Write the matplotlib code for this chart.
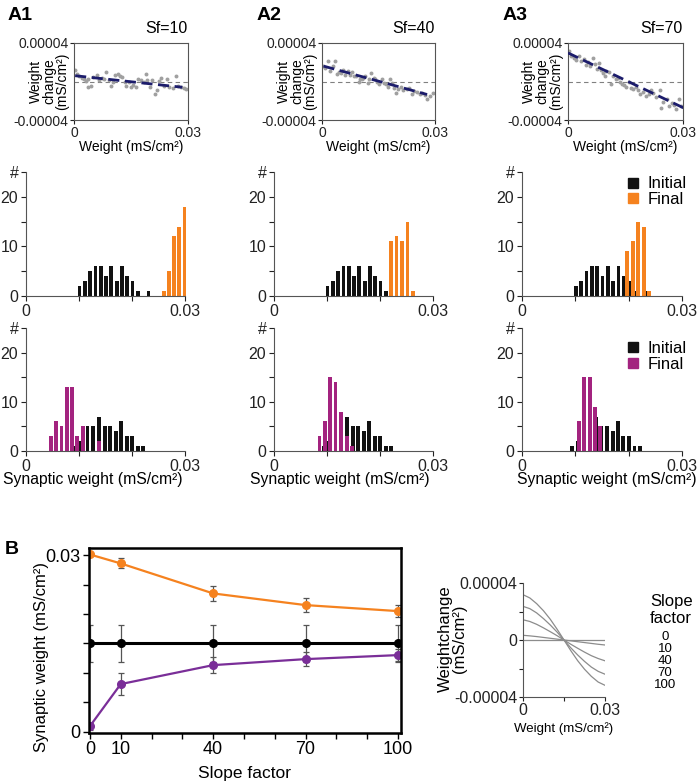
import numpy as np
import matplotlib
matplotlib.use('Agg')
import matplotlib.pyplot as plt
from matplotlib.lines import Line2D

plt.rcParams['font.family'] = ['Liberation Sans', 'DejaVu Sans']

# ---------------- data ----------------
# top row: weight change vs weight (x in mS/cm2 * 1e-3, y in mS/cm2 * 1e-5)
a1_x = [0.3, 0.7, 1.4, 2.0, 2.7, 3.2, 3.6, 3.8, 4.4, 5.1, 6.0, 6.7, 7.3, 7.9, 8.5, 9.1, 9.8, 10.3,
        10.9, 11.5, 12.1, 12.7, 13.3, 13.8, 14.5, 15.1, 15.6, 16.2, 16.9, 17.6, 18.3, 18.9, 19.3,
        20.0, 20.6, 21.3, 21.8, 22.4, 22.9, 23.8, 24.6, 25.1, 26.0, 26.9, 27.3, 28.2, 28.9, 29.5]
a1_y = [1.15, 0.8, 0.6, 0.35, 0.25, 0.1, 0.25, -0.6, -0.45, 0.5, 0.7, 0.17, 0.35, 0.25, 0.95, 0.17,
        -0.45, -0.1, 0.7, 0.8, 0.6, 0.45, -0.1, -0.45, -0.1, -0.6, -0.35, -0.6, 0.25, 0.17, 0.0,
        0.8, 0.17, -0.6, 0.17, -1.3, -0.9, 0.1, 0.35, -0.45, 0.25, -0.6, -0.7, 0.6, -0.45, -0.6,
        -0.7, -0.75]
a2_x = [0.26, 0.88, 1.5, 2.2, 2.9, 3.5, 4.0, 4.4, 5.0, 5.5, 6.2, 6.8, 7.5, 7.9, 8.5, 9.0, 9.7, 10.2,
        10.6, 11.0, 11.5, 12.1, 12.6, 13.1, 13.7, 14.1, 14.7, 15.2, 15.9, 16.5, 17.0, 17.6, 18.1,
        18.5, 19.2, 19.7, 20.3, 20.9, 21.6, 22.5, 23.2, 23.8, 24.4, 25.2, 25.9, 26.5, 27.4, 28.0,
        28.7, 29.4]
a2_y = [1.66, 1.41, 2.1, 1.07, 1.59, 2.1, 0.83, 0.97, 0.9, 1.17, 0.72, 1.07, 0.72, 0.97, 0.62, 0.62,
        -0.07, 0.28, 0.21, 0.38, 0.62, -0.14, 0.21, 0.9, 0.38, 0.21, -0.07, -0.31, 0.21, -0.14, -0.31,
        -0.55, 0.21, -0.14, -0.66, -1.24, -0.83, -0.55, -0.9, -0.76, -0.66, -1.34, -1.0, -1.1, -1.34,
        -1.17, -1.45, -1.79, -1.52, -1.17]
a3_x = [0.26, 0.87, 1.48, 2.17, 2.87, 3.48, 4.09, 4.61, 5.22, 5.83, 6.52, 6.96, 7.57, 8.09, 8.7,
        9.13, 9.57, 10.0, 10.7, 11.3, 11.7, 12.4, 13.0, 13.6, 14.1, 14.7, 15.2, 15.9, 16.5, 17.0,
        17.7, 18.3, 18.9, 19.6, 20.4, 21.1, 21.7, 22.3, 23.0, 23.9, 24.3, 24.9, 25.7, 26.4, 27.0,
        27.6, 28.3, 29.0, 29.6]
a3_y = [3.14, 2.62, 2.45, 2.21, 2.62, 2.10, 2.34, 1.76, 2.0, 1.59, 2.45, 1.86, 1.31, 1.93, 1.17,
        0.9, 0.62, 1.07, 0.97, -0.31, 0.55, 0.21, 0.38, -0.07, -0.21, -0.41, -0.55, -0.07, -0.66,
        -0.83, -0.55, -0.9, -1.34, -1.1, -1.52, -1.34, -0.9, -1.17, -1.59, -0.9, -2.72, -2.14,
        -1.86, -2.55, -2.21, -2.48, -2.9, -1.79, -2.55]
fit_x = [[0.3, 28.5], [0.4, 27.9], [0.0, 30.2]]
fit_y = [[0.6, -0.6], [1.6, -1.35], [2.97, -2.75]]
sf_labels = ['Sf=10', 'Sf=40', 'Sf=70']

# middle row histograms (orange = final)
init_mid_c = [0.0101, 0.0111, 0.0121, 0.0131, 0.0141, 0.0151, 0.0161, 0.0171, 0.0181, 0.0191,
              0.0201, 0.0211, 0.0221, 0.0231]
init_mid_n = [2, 3, 5, 6, 6, 4, 6, 3, 6, 4, 3, 1, 0, 1]
fin_mid_c = [[0.0260, 0.0270, 0.0279, 0.0289, 0.0299],
             [0.0221, 0.0231, 0.0241, 0.0252, 0.0262],
             [0.0197, 0.0208, 0.0218, 0.0228, 0.0238]]
fin_mid_n = [[1, 5, 12, 14, 18],
             [11, 12, 11, 15, 1],
             [9, 11, 15, 14, 1]]

# bottom row histograms (magenta = final)
init_bot_c = [0.0094, 0.0104, 0.0116, 0.0127, 0.0138, 0.0149, 0.0159, 0.0170, 0.0180, 0.0190,
              0.0200, 0.0211, 0.0221]
init_bot_n = [1, 2, 5, 5, 7, 5, 5, 4, 6, 3, 3, 1, 1]
fin_bot_c = [[0.0047, 0.0057, 0.0067, 0.0077, 0.0087, 0.0096, 0.0107, 0.0137],
             [0.0086, 0.0096, 0.0106, 0.0116, 0.0127, 0.0137, 0.0147],
             [0.0107, 0.0117, 0.0127, 0.0137, 0.0147]]
fin_bot_n = [[3, 6, 5, 13, 13, 3, 5, 2],
             [3, 6, 15, 14, 8, 3, 1],
             [6, 15, 15, 9, 5]]

# panel B left
slopes = [0, 10, 40, 70, 100]
orange_w = [0.0301, 0.02858, 0.02349, 0.02151, 0.02049]
orange_e = [0.0001, 0.00085, 0.00125, 0.00125, 0.001]
black_w = [0.015, 0.015, 0.015, 0.015, 0.015]
black_e = [0.0031, 0.0031, 0.0031, 0.0031, 0.0031]
purple_w = [0.00096, 0.0081, 0.01132, 0.01234, 0.01302]
purple_e = [0.0006, 0.0018, 0.0014, 0.0012, 0.001]

# panel B right (y in 1e-5)
curve_x = [0, 0.0025, 0.005, 0.0075, 0.01, 0.0125, 0.015, 0.0175, 0.02, 0.0225, 0.025, 0.0275, 0.03]
curves = {
    '0':   [0] * 13,
    '10':  [0.33, 0.29, 0.24, 0.18, 0.12, 0.06, 0, -0.06, -0.12, -0.18, -0.24, -0.3, -0.35],
    '40':  [1.42, 1.3, 1.1, 0.85, 0.58, 0.3, 0, -0.3, -0.58, -0.85, -1.1, -1.3, -1.46],
    '70':  [2.36, 2.2, 1.9, 1.5, 1.05, 0.55, 0, -0.55, -1.05, -1.5, -1.9, -2.2, -2.4],
    '100': [3.18, 2.95, 2.55, 2.05, 1.45, 0.75, 0, -0.75, -1.45, -2.05, -2.55, -2.95, -3.18],
}

ORANGE = '#F5821F'
MAGENTA = '#A3237F'
PURPLE = '#7A2E98'
NAVY = '#1C1C6B'

W, H = 700, 783


def box(l, t, r, b):
    return [l / W, 1 - b / H, (r - l) / W, (b - t) / H]


fig = plt.figure(figsize=(7, 7.83), dpi=100)

# ---------------- top row ----------------
top_boxes = [box(74, 43, 188, 120), box(322, 43, 435, 120), box(568, 43, 683, 120)]
xs_all = [a1_x, a2_x, a3_x]
ys_all = [a1_y, a2_y, a3_y]
for i in range(3):
    ax = fig.add_axes(top_boxes[i])
    ax.axhline(0, color='#808080', lw=0.8, ls=(0, (4, 3)))
    ax.scatter(np.array(xs_all[i]) * 1e-3, np.array(ys_all[i]) * 1e-5, s=8, color='#a0a0a0', lw=0, zorder=2)
    ax.plot(np.array(fit_x[i]) * 1e-3, np.array(fit_y[i]) * 1e-5, color=NAVY, lw=2, ls=(0, (4, 2)), zorder=3)
    ax.set_xlim(0, 0.03)
    ax.set_ylim(-4e-5, 4e-5)
    ax.set_xticks([0, 0.03])
    ax.set_xticklabels(['0', '0.03'])
    ax.set_yticks([-4e-5, 4e-5])
    ax.set_yticklabels(['-0.00004', '0.00004'])
    ax.tick_params(labelsize=10, length=3, width=0.8, pad=1, colors='#222222')
    for s in ax.spines.values():
        s.set_linewidth(0.8)
        s.set_color('#555555')
    ax.text(-0.22, 0.5, 'Weight\nchange\n(mS/cm²)', rotation=90, ha='center', va='center',
            transform=ax.transAxes, fontsize=10, linespacing=0.95)
    ax.text(0.5, -0.35, 'Weight (mS/cm²)', ha='center', va='center', transform=ax.transAxes, fontsize=10)
    ax.text(1.0, 1.19, sf_labels[i], ha='right', va='center', transform=ax.transAxes, fontsize=11.5)

fig.text(8 / W, 1 - 16 / H, 'A1', fontsize=14, fontweight='bold', va='center')
fig.text(257 / W, 1 - 16 / H, 'A2', fontsize=14, fontweight='bold', va='center')
fig.text(503 / W, 1 - 16 / H, 'A3', fontsize=14, fontweight='bold', va='center')
fig.text(5 / W, 1 - 549 / H, 'B', fontsize=14, fontweight='bold', va='center')


def hist_axes(rect, fc, fn, fcol, ic, inn, legend_y=None):
    ax = fig.add_axes(rect)
    ax.bar(ic, inn, width=0.00072, color='#111111', lw=0, clip_on=False)
    ax.bar(fc, fn, width=0.00072, color=fcol, lw=0, clip_on=False)
    ax.set_xlim(0, 0.03)
    ax.set_ylim(0, 25)
    ax.set_xticks([0, 0.01, 0.02, 0.03])
    ax.set_xticklabels(['0', '', '', '0.03'])
    ax.set_yticks([0, 5, 10, 15, 20, 25])
    ax.set_yticklabels(['0', '', '10', '', '20', '#'])
    ax.spines['top'].set_visible(False)
    ax.spines['right'].set_visible(False)
    for s in ['left', 'bottom']:
        ax.spines[s].set_linewidth(0.8)
        ax.spines[s].set_color('#555555')
    ax.tick_params(labelsize=11.5, length=3.5, width=0.8, pad=2, colors='#222222')
    if legend_y is not None:
        h = [Line2D([], [], marker='s', ls='', color='#111111', markersize=6.5),
             Line2D([], [], marker='s', ls='', color=fcol, markersize=6.5)]
        ax.legend(h, ['Initial', 'Final'], loc='upper left', bbox_to_anchor=(0.66, legend_y),
                  frameon=False, fontsize=12, handlelength=0.7, handletextpad=0.5,
                  labelspacing=0.05, borderpad=0, borderaxespad=0)
    return ax


mid_boxes = [box(26, 172, 185, 296), box(274, 172, 433, 296), box(522, 172, 682, 296)]
bot_boxes = [box(26, 328, 185, 451), box(274, 328, 433, 451), box(522, 328, 682, 451)]
for i in range(3):
    hist_axes(mid_boxes[i], fin_mid_c[i], fin_mid_n[i], ORANGE, init_mid_c, init_mid_n,
              0.965 if i == 2 else None)
    hist_axes(bot_boxes[i], fin_bot_c[i], fin_bot_n[i], MAGENTA, init_bot_c, init_bot_n,
              0.895 if i == 2 else None)

for cx in [93, 340, 607]:
    fig.text(cx / W, 1 - 480 / H, 'Synaptic weight (mS/cm²)', ha='center', va='center', fontsize=11.3)

# ---------------- panel B left ----------------
axb = fig.add_axes(box(89, 548, 401, 733))
ekw = dict(ecolor='#555555', elinewidth=0.9, capsize=2.5, capthick=0.9)
axb.errorbar(slopes, black_w, yerr=black_e, color='#000000', lw=2.2, marker='o', ms=5.5, **ekw)
axb.errorbar(slopes, orange_w, yerr=orange_e, color=ORANGE, lw=1.6, marker='o', ms=5.5, **ekw)
axb.errorbar(slopes, purple_w, yerr=purple_e, color=PURPLE, lw=1.6, marker='o', ms=5.5, **ekw)
axb.set_xlim(-0.3, 101)
axb.set_ylim(-0.0002, 0.0312)
axb.set_xticks(range(0, 101, 10))
axb.set_xticklabels(['0', '10', '', '', '40', '', '', '70', '', '', '100'])
axb.set_yticks([0, 0.005, 0.01, 0.015, 0.02, 0.025, 0.03])
axb.set_yticklabels(['0', '', '', '', '', '', '0.03'])
axb.tick_params(labelsize=13, length=4, width=1, pad=2)
for s in axb.spines.values():
    s.set_linewidth(1.8)
axb.text(-0.153, 0.41, 'Synaptic weight (mS/cm²)', rotation=90, ha='center', va='center',
         transform=axb.transAxes, fontsize=12)
axb.text(0.5, -0.217, 'Slope factor', ha='center', va='center', transform=axb.transAxes, fontsize=12.5)

# ---------------- panel B right ----------------
axr = fig.add_axes(box(523, 583, 605, 697))
for k in ['0', '10', '40', '70', '100']:
    axr.plot(curve_x, np.array(curves[k]) * 1e-5, color='#8c8c8c', lw=0.9)
axr.set_xlim(0, 0.03)
axr.set_ylim(-4e-5, 4e-5)
axr.set_xticks([0, 0.015, 0.03])
axr.set_xticklabels(['0', '', '0.03'])
axr.set_yticks([-4e-5, -2e-5, 0, 2e-5, 4e-5])
axr.set_yticklabels(['-0.00004', '', '0', '', '0.00004'])
axr.spines['top'].set_visible(False)
axr.spines['right'].set_visible(False)
for s in ['left', 'bottom']:
    axr.spines[s].set_linewidth(0.8)
    axr.spines[s].set_color('#555555')
axr.tick_params(labelsize=11.5, length=3, width=0.8, pad=1, colors='#222222')
axr.text(-0.86, 0.51, 'Weightchange\n(mS/cm²)', rotation=90, ha='center', va='center',
         transform=axr.transAxes, fontsize=12, linespacing=0.95)
axr.text(0.5, -0.28, 'Weight (mS/cm²)', ha='center', va='center', transform=axr.transAxes, fontsize=9.5)

fig.text(650 / W, 1 - 610 / H, 'Slope\nfactor', ha='left', va='center', fontsize=12, linespacing=1.1)
for lab, yy in zip(['0', '10', '40', '70', '100'], [637, 649, 661, 673, 685]):
    fig.text(665 / W, 1 - yy / H, lab, ha='center', va='center', fontsize=9.5)

fig.savefig('out.png', dpi=100)
